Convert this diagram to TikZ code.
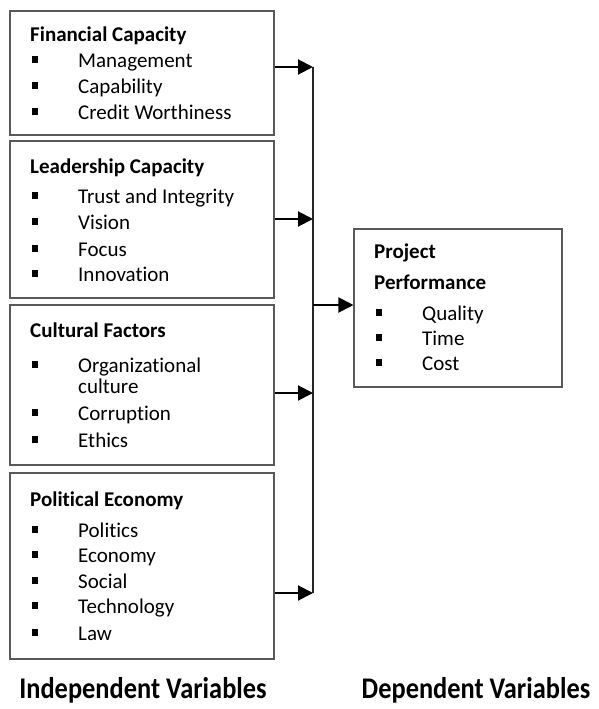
\documentclass[tikz,border=0pt]{standalone}
\usepackage{fontspec}
\setmainfont{Carlito}[Ligatures={NoCommon}]
\usetikzlibrary{arrows.meta}
\definecolor{boxgray}{HTML}{595959}
\newcommand\sqbul{\rule[4.5pt]{6pt}{6.3pt}}
\newcommand\widelab[1]{\scalebox{0.88}[1]{#1}}
\begin{document}
\begin{tikzpicture}[x=1pt,y=-1pt,
  box/.style={draw=boxgray, line width=1.1pt, inner sep=0pt},
  hd/.style={anchor=base west, inner sep=0pt, font=\fontsize{21}{25}\selectfont\bfseries},
  it/.style={anchor=base west, inner sep=0pt, font=\fontsize{21}{25}\selectfont},
  bul/.style={anchor=base west, inner sep=0pt},
  lab/.style={anchor=base, inner sep=0pt, font=\fontsize{30}{36}\selectfont\bfseries},
  arr/.style={line width=2pt, -{Triangle[length=15pt,width=15pt]}},
  bus/.style={line width=1.3pt, draw=black!85}]
\useasboundingbox (0,0) rectangle (599,709);
% boxes
\node[box, minimum width=264pt, minimum height=124pt] (b1) at (142,73) {};
\node[box, minimum width=264pt, minimum height=157pt] (b2) at (142,219.5) {};
\node[box, minimum width=264pt, minimum height=160pt] (b3) at (142,385) {};
\node[box, minimum width=264pt, minimum height=186pt] (b4) at (142,566) {};
\node[box, minimum width=208pt, minimum height=158pt] (pp) at (458,308) {};
% box 1
\node[hd] (h1) at (30,42) {Financial Capacity};
\node[bul] (u11) at (32,67) {\sqbul}; \node[it] (t11) at (78,67) {Management};
\node[bul] (u12) at (32,93) {\sqbul}; \node[it] (t12) at (78,93) {Capability};
\node[bul] (u13) at (32,119) {\sqbul}; \node[it] (t13) at (78,119) {Credit Worthiness};
% box 2
\node[hd] (h2) at (30,173) {Leadership Capacity};
\node[bul] (u21) at (32,203) {\sqbul}; \node[it] (t21) at (78,203) {Trust and Integrity};
\node[bul] (u22) at (32,229) {\sqbul}; \node[it] (t22) at (78,229) {Vision};
\node[bul] (u23) at (32,256) {\sqbul}; \node[it] (t23) at (78,256) {Focus};
\node[bul] (u24) at (32,281) {\sqbul}; \node[it] (t24) at (78,281) {Innovation};
% box 3
\node[hd] (h3) at (30,337) {Cultural Factors};
\node[bul] (u31) at (32,372) {\sqbul}; \node[it] (t31) at (78,372) {Organizational};
\node[it] (t31b) at (78,393) {culture};
\node[bul] (u32) at (32,420) {\sqbul}; \node[it] (t32) at (78,420) {Corruption};
\node[bul] (u33) at (32,447) {\sqbul}; \node[it] (t33) at (78,447) {Ethics};
% box 4
\node[hd] (h4) at (30,506) {Political Economy};
\node[bul] (u41) at (32,537) {\sqbul}; \node[it] (t41) at (78,537) {Politics};
\node[bul] (u42) at (32,562) {\sqbul}; \node[it] (t42) at (78,562) {Economy};
\node[bul] (u43) at (32,588) {\sqbul}; \node[it] (t43) at (78,588) {Social};
\node[bul] (u44) at (32,613) {\sqbul}; \node[it] (t44) at (78,613) {Technology};
\node[bul] (u45) at (32,640) {\sqbul}; \node[it] (t45) at (78,640) {Law};
% project performance
\node[hd] (hp1) at (374,258) {Project};
\node[hd] (hp2) at (374,289) {Performance};
\node[bul] (up1) at (376,320) {\sqbul}; \node[it] (tp1) at (422,320) {Quality};
\node[bul] (up2) at (376,345) {\sqbul}; \node[it] (tp2) at (422,345) {Time};
\node[bul] (up3) at (376,370) {\sqbul}; \node[it] (tp3) at (422,370) {Cost};
% connectors
\coordinate (j1) at (313,67);
\coordinate (j2) at (313,219);
\coordinate (j3) at (313,393);
\coordinate (j4) at (313,593);
\coordinate (jm) at (313,305);
\draw[bus] (j1) -- (j4);
\draw[arr] (b1.east |- j1) -- (j1);
\draw[arr] (b2.east |- j2) -- (j2);
\draw[arr] (b3.east |- j3) -- (j3);
\draw[arr] (b4.east |- j4) -- (j4);
\draw[arr] (jm) -- (pp.west |- jm);
% bottom labels
\node[lab] (iv) at (143,698) {\widelab{Independent Variables}};
\node[lab] (dv) at (476,698) {\widelab{Dependent Variables}};
\end{tikzpicture}
\end{document}
